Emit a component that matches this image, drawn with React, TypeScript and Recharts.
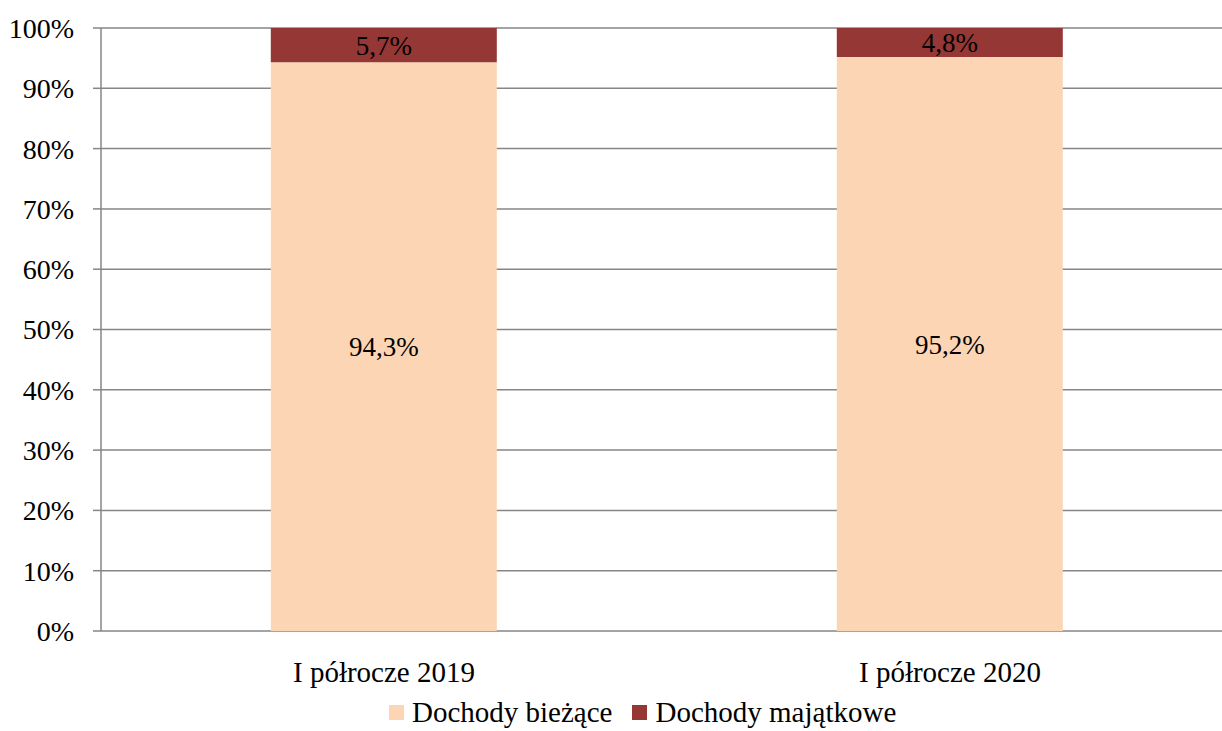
import { BarChart, Bar, XAxis, YAxis, CartesianGrid, LabelList } from 'recharts';

const categories = ['I półrocze 2019', 'I półrocze 2020'];
const biezace = [94.3, 95.2];
const majatkowe = [5.7, 4.8];
const yTicks = [0, 10, 20, 30, 40, 50, 60, 70, 80, 90, 100];
const boundaryTicks = [0, 1, 2];

const seriesNames = ['Dochody bieżące', 'Dochody majątkowe'];
const seriesColors = ['#FCD5B5', '#953735'];

const data = categories.map((name, i) => ({
  name,
  biezace: biezace[i],
  majatkowe: majatkowe[i],
}));

const FONT = '"Liberation Serif", "Times New Roman", serif';
const GRID = '#868686';

const fmt = (v: any) => `${String(v).replace('.', ',')}%`;

export default function App() {
  return (
    <div
      style={{
        position: 'fixed',
        left: 0,
        top: 0,
        width: 1222,
        height: 731,
        overflow: 'hidden',
        background: '#fff',
        fontFamily: FONT,
      }}
    >
      <BarChart
        width={1233}
        height={745}
        data={data}
        margin={{ top: 28, right: 0, left: 0, bottom: 54 }}
        barCategoryGap="30%"
      >
        <CartesianGrid vertical={false} stroke={GRID} strokeWidth={1.5} />
        {/* boundary ticks between categories */}
        <XAxis
          xAxisId="edge"
          type="number"
          domain={[0, 2]}
          ticks={boundaryTicks}
          height={0}
          tick={false}
          tickSize={8}
          stroke={GRID}
          strokeWidth={1.5}
        />
        <XAxis
          dataKey="name"
          height={60}
          axisLine={false}
          tickLine={false}
          tickMargin={24}
          tick={{ fill: '#000', fontSize: 29, fontFamily: FONT }}
        />
        <YAxis
          width={101}
          domain={[0, 100]}
          ticks={yTicks}
          tickFormatter={(v) => `${v}%`}
          tickSize={8}
          tickMargin={19}
          stroke={GRID}
          strokeWidth={1.5}
          tick={{ fill: '#000', fontSize: 28, fontFamily: FONT }}
        />
        <Bar dataKey="biezace" stackId="a" fill={seriesColors[0]} name={seriesNames[0]} isAnimationActive={false}>
          <LabelList dataKey="biezace" position="center" formatter={fmt} fill="#000" fontSize={27} fontFamily={FONT} />
        </Bar>
        <Bar dataKey="majatkowe" stackId="a" fill={seriesColors[1]} name={seriesNames[1]} isAnimationActive={false}>
          <LabelList dataKey="majatkowe" position="center" formatter={fmt} fill="#000" fontSize={27} fontFamily={FONT} />
        </Bar>
      </BarChart>

      {/* legend */}
      <div
        style={{
          position: 'absolute',
          left: 389,
          top: 698,
          display: 'flex',
          alignItems: 'center',
          fontSize: 29,
          lineHeight: '29px',
          color: '#000',
          whiteSpace: 'nowrap',
        }}
      >
        {seriesNames.map((n, i) => (
          <div key={n} style={{ display: 'flex', alignItems: 'center', marginRight: 20 }}>
            <div style={{ width: 15, height: 15, background: seriesColors[i], marginRight: 8 }} />
            <span>{n}</span>
          </div>
        ))}
      </div>
    </div>
  );
}
